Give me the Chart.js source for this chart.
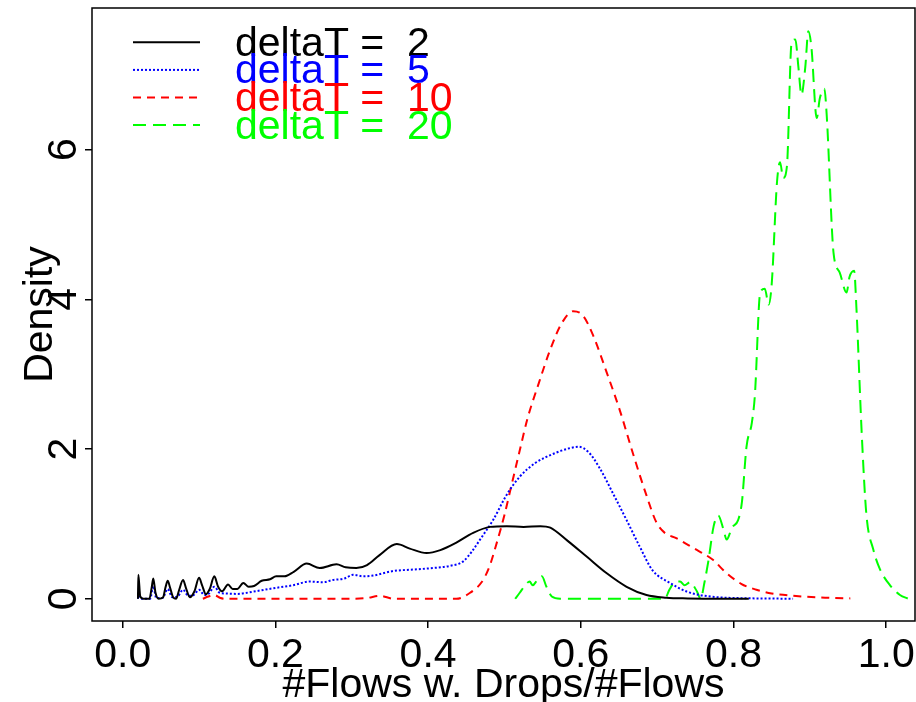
<!DOCTYPE html>
<html>
<head>
<meta charset="utf-8">
<script src="https://cdn.jsdelivr.net/npm/chart.js@4.4.1/dist/chart.umd.min.js"></script>
<style>
html,body{margin:0;padding:0;background:#fff;}
canvas{display:block;}
</style>
</head>
<body>
<canvas id="c" width="916" height="702"></canvas>
<script>
// ---- data ----
const xTicks = [0, 0.2, 0.4, 0.6, 0.8, 1.0];
const xTickLabels = ['0.0', '0.2', '0.4', '0.6', '0.8', '1.0'];
const yTicks = [0, 2, 4, 6];
const yTickLabels = ['0', '2', '4', '6'];
const xTitle = '#Flows w. Drops/#Flows';
const yTitle = 'Density';
const seriesNames = ['deltaT =  2', 'deltaT =  5', 'deltaT =  10', 'deltaT =  20'];

const x2 = [0.020,0.0205,0.023,0.027,0.035,0.038,0.040,0.043,0.047,0.053,0.056,0.059,0.062,0.066,0.070,0.074,0.079,0.083,0.088,0.094,0.100,0.104,0.109,0.114,0.120,0.125,0.130,0.138,0.144,0.150,0.158,0.165,0.172,0.182,0.193,0.201,0.212,0.224,0.241,0.258,0.280,0.292,0.306,0.320,0.336,0.359,0.376,0.398,0.416,0.437,0.459,0.481,0.503,0.525,0.547,0.560,0.582,0.608,0.634,0.660,0.686,0.712,0.740,0.780,0.820];
const y2 = [0.0,0.32,0.03,0.0,0.0,0.15,0.27,0.08,0.0,0.02,0.15,0.24,0.15,0.02,0.0,0.12,0.25,0.14,0.02,0.10,0.28,0.18,0.06,0.13,0.30,0.16,0.10,0.19,0.13,0.13,0.21,0.16,0.17,0.24,0.26,0.30,0.30,0.36,0.47,0.41,0.46,0.42,0.41,0.45,0.58,0.73,0.67,0.61,0.65,0.75,0.88,0.96,0.97,0.96,0.97,0.95,0.78,0.56,0.34,0.16,0.05,0.015,0.005,0.0,0.0];

const x5 = [0.020,0.0205,0.023,0.036,0.040,0.044,0.052,0.059,0.065,0.072,0.079,0.086,0.093,0.100,0.107,0.113,0.120,0.127,0.135,0.150,0.171,0.197,0.223,0.245,0.262,0.275,0.290,0.302,0.315,0.328,0.354,0.380,0.406,0.429,0.446,0.458,0.468,0.485,0.503,0.520,0.540,0.565,0.585,0.597,0.610,0.625,0.642,0.660,0.677,0.694,0.717,0.739,0.756,0.780,0.810,0.850,0.878];
const y5 = [0.0,0.10,0.0,0.0,0.17,0.01,0.01,0.13,0.02,0.03,0.12,0.04,0.05,0.12,0.05,0.07,0.16,0.08,0.07,0.065,0.095,0.14,0.18,0.23,0.22,0.25,0.27,0.32,0.30,0.31,0.37,0.39,0.41,0.44,0.50,0.64,0.79,1.05,1.39,1.63,1.81,1.94,2.01,2.03,1.96,1.74,1.41,1.05,0.70,0.38,0.21,0.095,0.05,0.02,0.008,0.003,0.0];

const x10 = [0.105,0.112,0.120,0.128,0.135,0.20,0.30,0.320,0.337,0.355,0.40,0.437,0.455,0.470,0.480,0.490,0.500,0.510,0.520,0.530,0.545,0.560,0.575,0.590,0.603,0.616,0.634,0.651,0.668,0.686,0.699,0.710,0.725,0.747,0.773,0.790,0.810,0.830,0.850,0.878,0.920,0.953];
const y10 = [0.0,0.03,0.05,0.01,0.0,0.0,0.0,0.01,0.04,0.0,0.0,0.0,0.08,0.22,0.42,0.75,1.12,1.55,1.98,2.40,2.88,3.33,3.68,3.84,3.78,3.52,3.02,2.52,1.95,1.38,1.02,0.88,0.81,0.68,0.52,0.35,0.20,0.12,0.07,0.04,0.015,0.005];

const x20 = [0.514,0.520,0.527,0.533,0.537,0.543,0.549,0.555,0.562,0.573,0.650,0.710,0.716,0.723,0.730,0.736,0.743,0.752,0.757,0.762,0.767,0.774,0.780,0.787,0.791,0.798,0.806,0.811,0.817,0.824,0.828,0.835,0.841,0.846,0.850,0.857,0.861,0.865,0.870,0.876,0.881,0.885,0.889,0.894,0.898,0.902,0.909,0.913,0.919,0.922,0.931,0.939,0.948,0.952,0.958,0.961,0.968,0.974,0.983,0.992,1.005,1.018,1.029];
const y20 = [0.0,0.08,0.18,0.23,0.18,0.25,0.30,0.16,0.03,0.0,0.0,0.0,0.12,0.22,0.23,0.18,0.22,0.10,0.0,0.22,0.50,0.97,1.11,0.92,0.79,0.95,1.05,1.29,2.03,2.35,2.72,4.09,4.14,3.93,4.20,5.57,5.83,5.62,5.78,7.42,7.47,7.10,6.73,7.10,7.58,7.37,6.42,6.68,6.81,6.47,4.62,4.36,4.09,4.30,4.38,3.88,2.19,1.13,0.66,0.39,0.18,0.05,0.0];

// ---- styling ----
const FONT = '"Liberation Sans", Arial, Helvetica, sans-serif';
const styles = [
  {color: '#000000', dash: []},
  {color: '#0000ff', dash: [2, 2]},
  {color: '#ff0000', dash: [8, 6]},
  {color: '#00ff00', dash: [13, 7]}
];
const seriesX = [x2, x5, x10, x20];
const seriesY = [y2, y5, y10, y20];

function pts(xs, ys) { return xs.map((x, i) => ({x: x, y: ys[i]})); }

const datasets = seriesX.map((xs, i) => ({
  label: seriesNames[i],
  data: pts(xs, seriesY[i]),
  borderColor: styles[i].color,
  borderDash: styles[i].dash,
  borderWidth: 2,
  pointRadius: 0,
  fill: false,
  cubicInterpolationMode: 'monotone'
}));

const customDraw = {
  id: 'customDraw',
  afterDraw(chart) {
    const ctx = chart.ctx;
    const a = chart.chartArea;
    const xs = chart.scales.x, ys = chart.scales.y;
    ctx.save();
    // box
    ctx.strokeStyle = '#000';
    ctx.lineWidth = 1.5;
    ctx.setLineDash([]);
    ctx.strokeRect(a.left, a.top, a.right - a.left, a.bottom - a.top);
    // x tick labels
    ctx.fillStyle = '#000';
    ctx.font = '41px ' + FONT;
    ctx.textAlign = 'center';
    ctx.textBaseline = 'alphabetic';
    xTicks.forEach((v, i) => ctx.fillText(xTickLabels[i], xs.getPixelForValue(v), a.bottom + 46));
    ctx.fillText(xTitle, (a.left + a.right) / 2, a.bottom + 76);
    // y tick labels (rotated)
    yTicks.forEach((v, i) => {
      ctx.save();
      ctx.translate(a.left - 16, ys.getPixelForValue(v));
      ctx.rotate(-Math.PI / 2);
      ctx.fillText(yTickLabels[i], 0, 0);
      ctx.restore();
    });
    ctx.save();
    ctx.translate(52, (a.top + a.bottom) / 2);
    ctx.rotate(-Math.PI / 2);
    ctx.fillText(yTitle, 0, 0);
    ctx.restore();
    // legend
    const ly0 = 42.3, lstep = 27.6;
    ctx.textAlign = 'left';
    seriesNames.forEach((name, i) => {
      const y = ly0 + i * lstep;
      ctx.strokeStyle = styles[i].color;
      ctx.lineWidth = 2;
      ctx.setLineDash(styles[i].dash);
      ctx.beginPath();
      ctx.moveTo(133, y);
      ctx.lineTo(200, y);
      ctx.stroke();
      ctx.fillStyle = styles[i].color;
      ctx.fillText(name, 235, y + 13.5);
    });
    ctx.restore();
  }
};

new Chart(document.getElementById('c'), {
  type: 'line',
  data: {datasets: datasets},
  options: {
    responsive: false,
    animation: false,
    devicePixelRatio: 1,
    layout: {padding: {top: 8, right: 1, left: 0, bottom: 0}},
    plugins: {legend: {display: false}, tooltip: {enabled: false}},
    scales: {
      x: {
        type: 'linear',
        min: -0.0402,
        max: 1.0377,
        afterBuildTicks: (s) => { s.ticks = xTicks.map(v => ({value: v})); },
        afterFit: (s) => { s.height = 81; },
        ticks: {display: false},
        border: {display: false},
        grid: {display: true, drawOnChartArea: false, drawTicks: true, tickLength: 7, color: '#000', lineWidth: 1.5}
      },
      y: {
        type: 'linear',
        min: -0.297,
        max: 7.89,
        afterBuildTicks: (s) => { s.ticks = yTicks.map(v => ({value: v})); },
        afterFit: (s) => { s.width = 92; },
        ticks: {display: false},
        border: {display: false},
        grid: {display: true, drawOnChartArea: false, drawTicks: true, tickLength: 7, color: '#000', lineWidth: 1.5}
      }
    }
  },
  plugins: [customDraw]
});
</script>
</body>
</html>
